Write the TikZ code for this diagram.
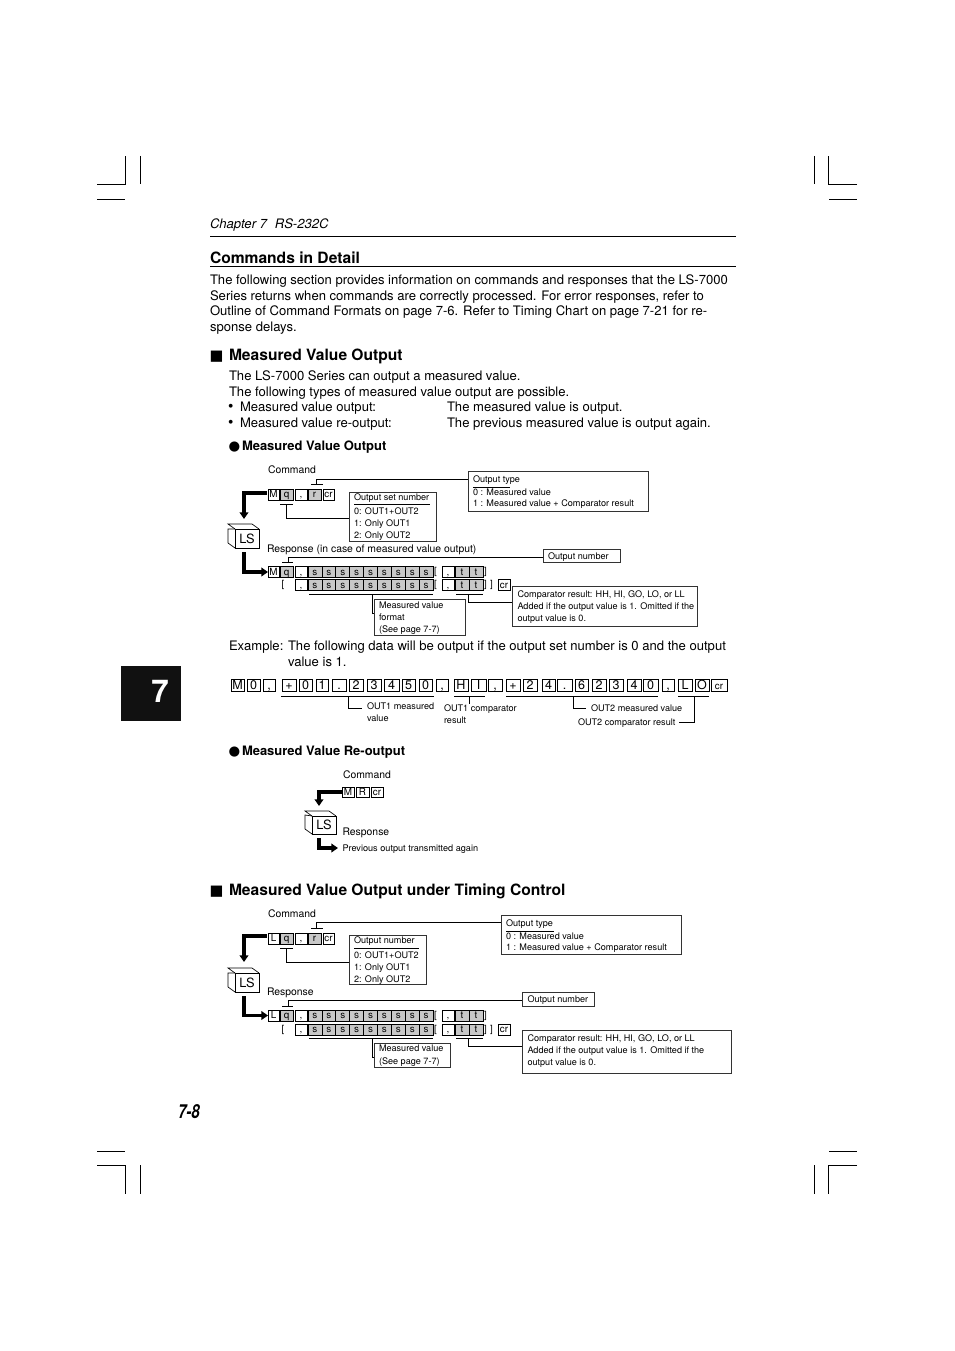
\documentclass[tikz,border=0pt]{standalone}
\usepackage{fontspec}
\setmainfont{TeX Gyre Heros}
\newfontfamily\symfont{DejaVu Sans}
\usetikzlibrary{arrows.meta}
\definecolor{cellgray}{HTML}{C8C8C8}
\definecolor{boxedge}{HTML}{333333}
\definecolor{tabblack}{HTML}{111111}
\newcommand{\bodyf}{\fontsize{9.81pt}{11pt}\selectfont}
\newcommand{\headf}{\fontsize{11.7pt}{14pt}\bfseries\selectfont}
\newcommand{\subf}{\fontsize{9.73pt}{12pt}\bfseries\selectfont}
\newcommand{\labf}{\fontsize{7.8pt}{9pt}\selectfont}
\newcommand{\smf}{\fontsize{6.82pt}{8pt}\selectfont}
\newcommand{\cellf}{\fontsize{7.4pt}{8pt}\selectfont}
\newcommand{\exf}{\fontsize{9.4pt}{10pt}\selectfont}
% \cell[style]{name}{x1}{x2}{y1}{y2}{text}
\newcommand{\cell}[7][cellw]{%
  \pgfmathsetmacro{\cw}{(#4-#3)*0.75}\pgfmathsetmacro{\ch}{(#6-#5)*0.75}%
  \node[#1,minimum width=\cw pt,minimum height=\ch pt] (#2) at ({(#3+#4)/2},{(#5+#6)/2}) {#7};}
% \respRows{prefix}{first letter}{row1 top}{row2 top}
\newcommand{\respRows}[4]{%
  \pgfmathsetmacro{\ra}{#3+11}\pgfmathsetmacro{\rb}{#4+11}%
  \cell{#1M}{268}{279}{#3}{\ra}{#2}
  \cell[cellg]{#1q}{280}{293}{#3}{\ra}{q}
  \cell{#1ca}{295}{307}{#3}{\ra}{,}
  \cell{#1cb}{295}{307}{#4}{\rb}{,}
  \foreach \i in {0,...,8}{%
    \pgfmathsetmacro{\xa}{308+13.9*\i}\pgfmathsetmacro{\xb}{\xa+13.9}%
    \cell[cellg]{#1sa\i}{\xa}{\xb}{#3}{\ra}{s}
    \cell[cellg]{#1sb\i}{\xa}{\xb}{#4}{\rb}{s}
  }
  \cell{#1da}{442}{454}{#3}{\ra}{,}
  \cell{#1db}{442}{454}{#4}{\rb}{,}
  \cell[cellg]{#1ta1}{455}{469}{#3}{\ra}{t}
  \cell[cellg]{#1ta2}{469}{483}{#3}{\ra}{t}
  \cell[cellg]{#1tb1}{455}{469}{#4}{\rb}{t}
  \cell[cellg]{#1tb2}{469}{483}{#4}{\rb}{t}
  \cell{#1cr}{498}{510}{#4}{\rb}{cr}
  \node[brk] (#1bra) at (435.5,{(#3+\ra)/2}) {[};
  \node[brk] (#1brb) at (435.5,{(#4+\rb)/2}) {[};
  \node[brk] (#1brc) at (283,{(#4+\rb)/2}) {[};
  \node[brk] (#1brd) at (485.5,{(#3+\ra)/2}) {]};
  \node[brk] (#1bre) at (485.5,{(#4+\rb)/2}) {]};
  \node[brk] (#1brf) at (491.5,{(#4+\rb)/2}) {]};
}
% \lscube{name}{x1}{x2}{y1}{y2}
\newcommand{\lscube}[5]{%
  \pgfmathsetmacro{\cw}{(#3-#2)*0.75}\pgfmathsetmacro{\ch}{(#5-#4)*0.75}%
  \draw[cubeline] (#2,#4) -- ++(-7,-5) -- ++(24,0) -- (#3,#4);
  \draw[cubeline] (#2,#5) -- ++(-7,-5) -- ++(0,-14) -- (#2,#4);
  \node[lsbox,minimum width=\cw pt,minimum height=\ch pt] (#1) at ({(#2+#3)/2},{(#4+#5)/2}) {LS};
}
\tikzset{
  x=0.75pt,y=-0.75pt,
  txt/.style={anchor=base west,inner sep=0pt,outer sep=0pt},
  body/.style={txt,font=\bodyf},
  head/.style={txt,font=\headf},
  sub/.style={txt,font=\subf},
  lab/.style={txt,font=\labf},
  sm/.style={txt,font=\smf},
  cellw/.style={draw=black,line width=0.6pt,inner sep=0pt,outer sep=0pt,font=\cellf,text height=5.2pt,text depth=0.2pt},
  cellg/.style={cellw,fill=cellgray},
  excell/.style={cellw,font=\exf,text height=6.4pt,text depth=0pt},
  brk/.style={inner sep=0pt,font=\cellf},
  infobox/.style={draw=boxedge,line width=0.6pt,inner sep=0pt,outer sep=0pt},
  lsbox/.style={draw=black,fill=white,line width=0.6pt,inner sep=0pt,outer sep=0pt,font=\fontsize{9.6pt}{11pt}\selectfont},
  cubeline/.style={draw=black,line width=0.5pt},
  conn/.style={draw=black,line width=0.6pt},
  rule/.style={draw=black,line width=0.6pt},
  crop/.style={draw=black,line width=0.6pt},
  bigarrow/.style={draw=black,line width=2.5pt,-{Triangle[width=6.5pt,length=5pt]}},
}
\newcommand{\infob}[5]{%
  \pgfmathsetmacro{\cw}{(#3-#2)*0.75-0.6}\pgfmathsetmacro{\ch}{(#5-#4)*0.75-0.6}%
  \node[infobox,minimum width=\cw pt,minimum height=\ch pt] (#1) at ({(#2+#3)/2},{(#4+#5)/2}) {};}
\begin{document}
\begin{tikzpicture}
\useasboundingbox (0,0) rectangle (954,1351);
\fill[white] (0,0) rectangle (954,1351);
% crop marks
\draw[crop] (97,184) -- (125.5,184) -- (125.5,156);
\draw[crop] (140.5,156) -- (140.5,184.5);
\draw[crop] (97,199.5) -- (125,199.5);
\draw[crop] (857,184) -- (828.5,184) -- (828.5,156);
\draw[crop] (814.5,156) -- (814.5,184.5);
\draw[crop] (829,199.5) -- (857,199.5);
\draw[crop] (97,1165) -- (125.5,1165) -- (125.5,1194);
\draw[crop] (140.5,1165) -- (140.5,1194);
\draw[crop] (97,1151) -- (125,1151);
\draw[crop] (857,1165) -- (828.5,1165) -- (828.5,1194);
\draw[crop] (814.5,1165) -- (814.5,1194);
\draw[crop] (829,1151) -- (857,1151);
% chapter tab
\fill[tabblack] (121,666) rectangle (181,721);
\node[anchor=center,inner sep=0pt,text=white,font=\fontsize{23.5pt}{26pt}\bfseries\selectfont] (tab) at (160,691) {7};
% header
\node[txt,font=\fontsize{9.8pt}{11pt}\itshape\selectfont] (chap) at (210,229) {Chapter 7\hspace{0.6em}RS-232C};
\coordinate (ruleAa) at (210,236.5); \coordinate (ruleAb) at (736,236.5);
\draw[rule] (ruleAa) -- (ruleAb);
\node[head] (title) at (210,263.5) {Commands in Detail};
\coordinate (ruleBa) at (210,266.5); \coordinate (ruleBb) at (736,266.5);
\draw[draw=black,line width=1.1pt] (ruleBa) -- (ruleBb);
\node[body] (p1) at (210,285) {The following section provides information on commands and responses that the LS-7000};
\node[body] (p2) at (210,301) {Series returns when commands are correctly processed. For error responses, refer to};
\node[body] (p3) at (210,316) {Outline of Command Formats on page 7-6. Refer to Timing Chart on page 7-21 for re-};
\node[body] (p4) at (210,332) {sponse delays.};
% section 1
\node[txt,font=\symfont\fontsize{11pt}{12pt}\selectfont] (sq1) at (209.5,360.5) {■};
\node[head] (h1) at (229,360.5) {Measured Value Output};
\node[body] (q1) at (229,380.5) {The LS-7000 Series can output a measured value.};
\node[body] (q2) at (229,396.5) {The following types of measured value output are possible.};
\node[txt,font=\fontsize{11.5pt}{12pt}\selectfont] (q3) at (228,411.5) {•};
\node[body] (q3a) at (240,411.5) {Measured value output:};
\node[body] (q3b) at (447,411.5) {The measured value is output.};
\node[txt,font=\fontsize{11.5pt}{12pt}\selectfont] (q4) at (228,427) {•};
\node[body] (q4a) at (240,427) {Measured value re-output:};
\node[body] (q4b) at (447,427) {The previous measured value is output again.};
\node[txt,font=\symfont\fontsize{10pt}{12pt}\selectfont] (dot1) at (228.5,450) {●};
\node[sub] (s1) at (242,450) {Measured Value Output};
% diagram 1
\node[lab] (cmd1) at (268,473) {Command};
\cell{aM}{268}{279}{489}{500}{M}
\cell[cellg]{aq}{280}{293}{489}{500}{q}
\cell{ac}{295}{307}{489}{500}{,}
\cell[cellg]{ar}{308}{321}{489}{500}{r}
\cell{acr}{323}{334}{489}{500}{cr}
\infob{atype}{468}{649}{471}{512}
\node[sm] (at0) at (473,482.5) {Output type};
\coordinate (atu1) at (473,487); \coordinate (atu2) at (510,487); \draw[conn] (atu1) -- (atu2);
\node[sm] (at1) at (473,495) {0 : Measured value};
\node[sm] (at2) at (473,506.5) {1 : Measured value + Comparator result};
\coordinate (atk1) at (311,484.5); \coordinate (atk2) at (323,484.5); \draw[conn] (atk1) -- (atk2);
\coordinate (atk) at (316.5,484.5); \coordinate (atp) at (468,479);
\draw[conn] (atk) |- (atp);
\infob{aset}{349}{437}{492}{542}
\node[sm] (as0) at (354,500.5) {Output set number};
\coordinate (asu1) at (354,504.5); \coordinate (asu2) at (430,504.5); \draw[conn] (asu1) -- (asu2);
\node[sm] (as1) at (354,514) {0: OUT1+OUT2};
\node[sm] (as2) at (354,526) {1: Only OUT1};
\node[sm] (as3) at (354,538) {2: Only OUT2};
\coordinate (ask1) at (280,504); \coordinate (ask2) at (293,504); \draw[conn] (ask1) -- (ask2);
\coordinate (ask) at (286.5,504); \coordinate (asp) at (349,518);
\draw[conn] (ask) |- (asp);
\lscube{lsa}{235}{259}{529}{548}
\coordinate (aarr1) at (267,493); \coordinate (aarr2) at (244,519);
\draw[bigarrow] (aarr1) -| (aarr2);
\coordinate (aarr3) at (244,552);
\node[lab] (resp1) at (267,552.5) {Response (in case of measured value output)};
\respRows{b}{M}{566.5}{579.5}
\draw[bigarrow] (aarr3) |- (bM.west);
\infob{bnum}{543}{621}{549}{563}
\node[sm] (bn0) at (548,559) {Output number};
\coordinate (bk1) at (282,562); \coordinate (bk2) at (293,562); \draw[conn] (bk1) -- (bk2);
\coordinate (bk) at (288,562); \coordinate (bp) at (543,557);
\draw[conn] (bk) |- (bp);
\coordinate (bu1) at (309,594); \coordinate (bu2) at (433,594); \draw[conn] (bu1) -- (bu2);
\coordinate (bu3) at (456,594); \coordinate (bu4) at (483,594); \draw[conn] (bu3) -- (bu4);
\infob{bfmt}{374}{466}{599}{636}
\node[sm] (bf1) at (379,608) {Measured value};
\node[sm] (bf2) at (379,620.5) {format};
\node[sm] (bf3) at (379,632.5) {(See page 7-7)};
\coordinate (bfk) at (372,594); \coordinate (bfp) at (374,613);
\draw[conn] (bfk) |- (bfp);
\infob{bcmp}{512}{698}{586}{627}
\node[sm] (bc1) at (517.5,597.5) {Comparator result: HH, HI, GO, LO, or LL};
\node[sm] (bc2) at (517.5,609.5) {Added if the output value is 1. Omitted if the};
\node[sm] (bc3) at (517.5,621.5) {output value is 0.};
\coordinate (bck) at (468.5,594); \coordinate (bcp) at (512,602);
\draw[conn] (bck) |- (bcp);
% example
\node[body] (e1) at (229,650) {Example:};
\node[body] (e2) at (288,650) {The following data will be output if the output set number is 0 and the output};
\node[body] (e3) at (288,666) {value is 1.};
\foreach \nm/\xa/\xb/\tx in {
  e01/231/244/M,e02/247/260/0,e03/263/275/{,},e04/282/296/+,e05/299/312/0,e06/316/328/1,e07/332/346/.,
  e08/349/363/2,e09/367/381/3,e10/384/399/4,e11/402/415/5,e12/419/432/0,e13/436/448/{,},e14/454/468/H,e15/471/486/I,
  e16/488/502/{,},e17/506/520/+,e18/523/537/2,e19/542/555/4,e20/557/572/.,e21/575/588/6,e22/592/606/2,e23/609/623/3,
  e24/627/641/4,e25/643/658/0,e26/662/674/{,},e27/678/692/L,e28/695/709/O}{
  \cell[excell]{\nm}{\xa}{\xb}{679}{691}{\tx}
}
\cell[excell]{e29}{711}{727}{679}{691}{\cellf cr}
\coordinate (eu1) at (281,696); \coordinate (eu2) at (434,696); \draw[conn] (eu1) -- (eu2);
\coordinate (eu3) at (454,696); \coordinate (eu4) at (485,696); \draw[conn] (eu3) -- (eu4);
\coordinate (eu5) at (506,696); \coordinate (eu6) at (658,696); \draw[conn] (eu5) -- (eu6);
\coordinate (eu7) at (678,696); \coordinate (eu8) at (709,696); \draw[conn] (eu7) -- (eu8);
\coordinate (ek1) at (348,696); \coordinate (ep1) at (362,708); \draw[conn] (ek1) |- (ep1);
\coordinate (ek2) at (469,696); \coordinate (ep2) at (469,704); \draw[conn] (ek2) -- (ep2);
\coordinate (ek3) at (573,696); \coordinate (ep3) at (586,708); \draw[conn] (ek3) |- (ep3);
\coordinate (ek4) at (694,696); \coordinate (ep4) at (679,722); \draw[conn] (ek4) |- (ep4);
\node[sm] (el1) at (367,709) {OUT1 measured};
\node[sm] (el2) at (367,721) {value};
\node[sm] (el3) at (444,711.5) {OUT1 comparator};
\node[sm] (el4) at (444,723.5) {result};
\node[sm] (el5) at (591,711) {OUT2 measured value};
\node[sm] (el6) at (578,725) {OUT2 comparator result};
% re-output
\node[txt,font=\symfont\fontsize{10pt}{12pt}\selectfont] (dot2) at (228.5,755) {●};
\node[sub] (s2) at (242,755) {Measured Value Re-output};
\node[lab] (cmd2) at (343,778) {Command};
\cell{cM}{342}{354}{787}{797}{M}
\cell{cR}{356}{369}{787}{797}{R}
\cell{ccr}{371}{383}{787}{797}{cr}
\lscube{lsc}{312}{336}{816}{834}
\coordinate (carr2) at (319,806);
\draw[bigarrow] (cM.west) -| (carr2);
\coordinate (carr3) at (319,838); \coordinate (carr4) at (338,848);
\draw[bigarrow] (carr3) |- (carr4);
\node[lab] (resp2) at (342.5,835) {Response};
\node[sm,font=\fontsize{6.85pt}{8pt}\selectfont] (prev) at (342.5,851) {Previous output transmitted again};
% section 2
\node[txt,font=\symfont\fontsize{11pt}{12pt}\selectfont] (sq2) at (209.5,895) {■};
\node[head] (h2) at (229,895) {Measured Value Output under Timing Control};
\node[lab] (cmd3) at (268,917) {Command};
\cell{dM}{268}{279}{933}{944}{L}
\cell[cellg]{dq}{280}{293}{933}{944}{q}
\cell{dc}{295}{307}{933}{944}{,}
\cell[cellg]{dr}{308}{321}{933}{944}{r}
\cell{dcr}{323}{334}{933}{944}{cr}
\infob{dtype}{501}{682}{915}{955}
\node[sm] (dt0) at (506,926.5) {Output type};
\coordinate (dtu1) at (506,931); \coordinate (dtu2) at (554,931); \draw[conn] (dtu1) -- (dtu2);
\node[sm] (dt1) at (506,939) {0 : Measured value};
\node[sm] (dt2) at (506,950.5) {1 : Measured value + Comparator result};
\coordinate (dtk1) at (311,928); \coordinate (dtk2) at (323,928); \draw[conn] (dtk1) -- (dtk2);
\coordinate (dtk) at (316.5,928); \coordinate (dtp) at (501,922);
\draw[conn] (dtk) |- (dtp);
\infob{dset}{349}{427}{935}{985}
\node[sm] (ds0) at (354,943.5) {Output number};
\coordinate (dsu1) at (354,948); \coordinate (dsu2) at (419,948); \draw[conn] (dsu1) -- (dsu2);
\node[sm] (ds1) at (354,958.5) {0: OUT1+OUT2};
\node[sm] (ds2) at (354,970) {1: Only OUT1};
\node[sm] (ds3) at (354,982) {2: Only OUT2};
\coordinate (dsk1) at (280,948); \coordinate (dsk2) at (293,948); \draw[conn] (dsk1) -- (dsk2);
\coordinate (dsk) at (286.5,948); \coordinate (dsp) at (349,962);
\draw[conn] (dsk) |- (dsp);
\lscube{lsd}{235}{259}{973}{992}
\coordinate (darr1) at (267,936); \coordinate (darr2) at (244,962);
\draw[bigarrow] (darr1) -| (darr2);
\coordinate (darr3) at (244,996);
\node[lab] (resp3) at (267,995) {Response};
\respRows{f}{L}{1010}{1024}
\draw[bigarrow] (darr3) |- (fM.west);
\infob{fnum}{522}{595}{992}{1007}
\node[sm] (fn0) at (527.5,1002) {Output number};
\coordinate (fk1) at (282,1006); \coordinate (fk2) at (293,1006); \draw[conn] (fk1) -- (fk2);
\coordinate (fk) at (288,1006); \coordinate (fp) at (522,1000);
\draw[conn] (fk) |- (fp);
\coordinate (fu1) at (309,1038); \coordinate (fu2) at (433,1038); \draw[conn] (fu1) -- (fu2);
\coordinate (fu3) at (456,1038); \coordinate (fu4) at (483,1038); \draw[conn] (fu3) -- (fu4);
\infob{ffmt}{374}{451}{1043}{1068}
\node[sm] (ff1) at (379,1051.5) {Measured value};
\node[sm] (ff2) at (379,1064) {(See page 7-7)};
\coordinate (ffk) at (372,1038); \coordinate (ffp) at (374,1057);
\draw[conn] (ffk) |- (ffp);
\infob{fcmp}{522}{732}{1030}{1074}
\node[sm] (fc1) at (527.5,1041.5) {Comparator result: HH, HI, GO, LO, or LL};
\node[sm] (fc2) at (527.5,1053.5) {Added if the output value is 1. Omitted if the};
\node[sm] (fc3) at (527.5,1065.5) {output value is 0.};
\coordinate (fck) at (468.5,1038); \coordinate (fcp) at (522,1046);
\draw[conn] (fck) |- (fcp);
% page number
\node[txt,font=\fontsize{14.5pt}{16pt}\bfseries\itshape\selectfont] (page) at (178,1118) {\scalebox{0.78}[1]{7-8}};
\end{tikzpicture}
\end{document}
